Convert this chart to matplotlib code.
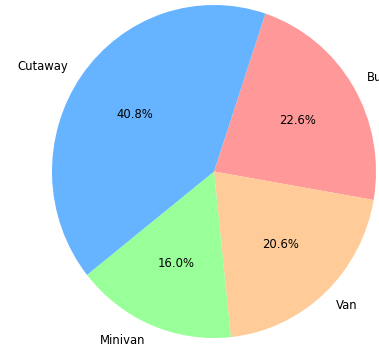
import matplotlib
matplotlib.use("Agg")
import matplotlib.pyplot as plt

labels = ['Bus', 'Van', 'Minivan', 'Cutaway']
shares = [22.6, 20.6, 16.0, 40.8]
colors = ['#ff9999', '#ffcc99', '#99ff99', '#66b3ff']

fig = plt.figure(figsize=(3.79, 3.5), dpi=100)
ax = fig.add_axes([0, 0, 1, 1])

ax.pie(shares, labels=labels, colors=colors, autopct='%1.1f%%',
       startangle=71.5, counterclock=False, textprops={'fontsize': 8.4})

# pie is cropped on the right in the reference, so set limits by hand
ax.set_aspect('auto')
ax.set_xlim(-1.321, 1.0185)
ax.set_ylim(-1.072, 1.030)
ax.axis('off')

plt.savefig('out.png', dpi=100)
plt.close()
